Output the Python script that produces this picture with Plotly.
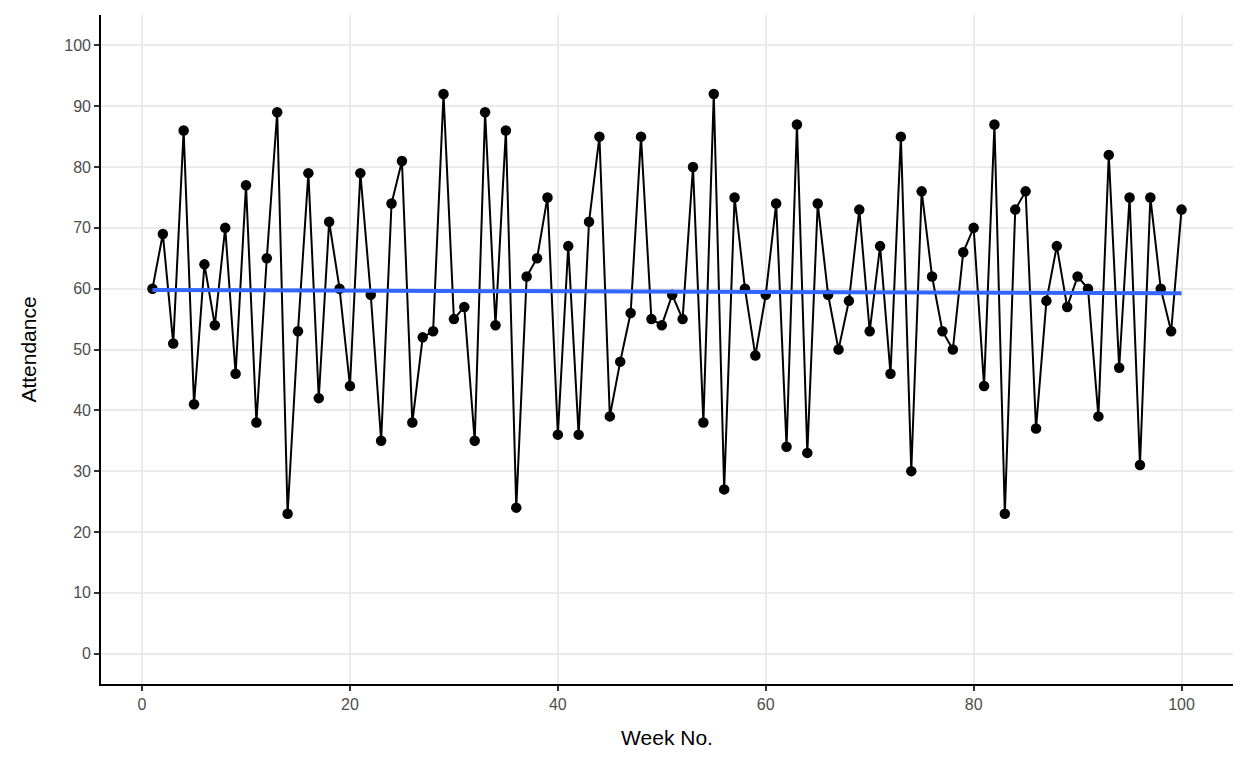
import numpy as np
import plotly.graph_objects as go

weeks = list(range(1, 101))
attendance = [60, 69, 51, 86, 41, 64, 54, 70, 46, 77,
              38, 65, 89, 23, 53, 79, 42, 71, 60, 44,
              79, 59, 35, 74, 81, 38, 52, 53, 92, 55,
              57, 35, 89, 54, 86, 24, 62, 65, 75, 36,
              67, 36, 71, 85, 39, 48, 56, 85, 55, 54,
              59, 55, 80, 38, 92, 27, 75, 60, 49, 59,
              74, 34, 87, 33, 74, 59, 50, 58, 73, 53,
              67, 46, 85, 30, 76, 62, 53, 50, 66, 70,
              44, 87, 23, 73, 76, 37, 58, 67, 57, 62,
              60, 39, 82, 47, 75, 31, 75, 60, 53, 73]
x_ticks = [0, 20, 40, 60, 80, 100]
y_ticks = [0, 10, 20, 30, 40, 50, 60, 70, 80, 90, 100]

slope, intercept = np.polyfit(weeks, attendance, 1)
fit_x = [weeks[0], weeks[-1]]
fit_y = [intercept + slope * w for w in fit_x]

fig = go.Figure()
fig.add_trace(go.Scatter(x=weeks, y=attendance, mode="lines+markers",
                         line=dict(color="black", width=2),
                         marker=dict(color="black", size=10.5),
                         showlegend=False, hoverinfo="x+y"))
fig.add_trace(go.Scatter(x=fit_x, y=fit_y, mode="lines",
                         line=dict(color="#3366FF", width=4),
                         showlegend=False))

axis_common = dict(showline=True, linecolor="black", linewidth=1.6,
                   ticks="outside", ticklen=5, tickcolor="#333333", tickwidth=1.5,
                   showgrid=True, gridcolor="#EBEBEB", gridwidth=1.5,
                   zeroline=False, mirror=False,
                   tickfont=dict(family="Liberation Sans, Arial", size=16, color="#4D4D4D"))

fig.update_layout(
    width=1240, height=760,
    paper_bgcolor="white", plot_bgcolor="white",
    margin=dict(l=93, r=15, t=7, b=84),
    font=dict(family="Liberation Sans, Arial", color="black"),
    xaxis=dict(range=[-3.95, 104.95], tickvals=x_ticks,
               title=dict(text="Week No.", font=dict(size=21, color="black"), standoff=18),
               **axis_common),
    yaxis=dict(range=[-5, 105], tickvals=y_ticks,
               title=dict(text="Attendance", font=dict(size=21, color="black"), standoff=22),
               **axis_common),
)

fig.write_html("out.html")
